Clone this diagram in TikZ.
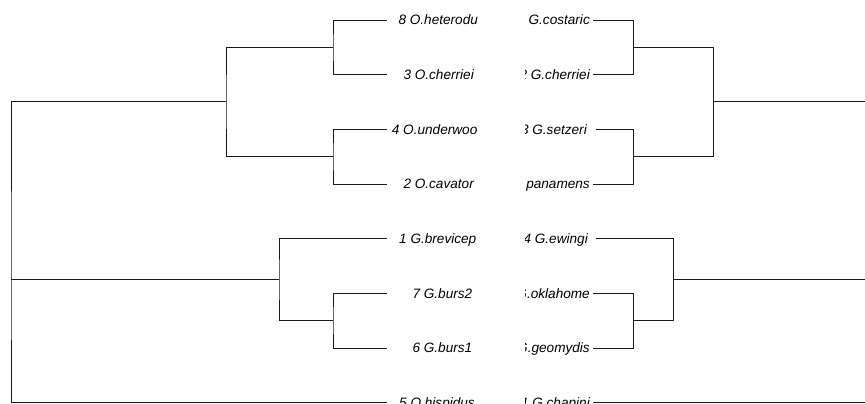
\documentclass[tikz,border=0pt]{standalone}
\usepackage{fontspec}
\setmainfont{Liberation Sans}
\begin{document}
\begin{tikzpicture}[x=1pt,y=-1pt,
  edge/.style={draw=black!90,line width=0.75pt},
  lab/.style={inner sep=0pt,font=\fontsize{13.6}{16}\selectfont\itshape},
  llab/.style={lab,anchor=base west},
  rlab/.style={lab,anchor=base east}]
\useasboundingbox (0,0) rectangle (865,404);
% tip heights
\def\ta{20}\def\tb{74.67}\def\tc{129.33}\def\td{184}
\def\te{238.67}\def\tf{293.33}\def\tg{348}\def\th{402.5}
% ---------- left tree ----------
\coordinate (lt1) at (387,\ta);
\coordinate (lt2) at (387,\tb);
\coordinate (lt3) at (387,\tc);
\coordinate (lt4) at (387,\td);
\coordinate (lt5) at (387,\te);
\coordinate (lt6) at (387,\tf);
\coordinate (lt7) at (387,\tg);
\coordinate (lt8) at (387,\th);
\coordinate (lA) at (333,47.33);
\coordinate (lB) at (333,156.67);
\coordinate (lAB) at (226,101.83);
\coordinate (lC) at (333,320.67);
\coordinate (lD) at (279,279.67);
\coordinate (lR) at (11,279.67);
\draw[edge] (lt1) -| (lA) |- (lt2);
\draw[edge] (lt3) -| (lB) |- (lt4);
\draw[edge] (lA) -| (lAB) |- (lB);
\draw[edge] (lt6) -| (lC) |- (lt7);
\draw[edge] (lt5) -| (lD) |- (lC);
\draw[edge] (lAB) -| (lR) |- (lt8);
\draw[edge] (lD) -- (lR);
% left labels
\node[llab] (n8) at (398.3,\ta+4.8) {8 O.heterodu};
\node[llab] (n3) at (403.3,\tb+4.8) {3 O.cherriei};
\node[llab] (n4) at (391.7,\tc+4.8) {4 O.underwoo};
\node[llab] (n2) at (403.3,\td+4.8) {2 O.cavator};
\node[llab] (n1) at (399,\te+4.8) {1 G.brevicep};
\node[llab] (n7) at (412.3,\tf+4.8) {7 G.burs2};
\node[llab] (n6) at (412.3,\tg+4.8) {6 G.burs1};
\node[llab] (n5) at (399,\th+4.8) {5 O.hispidus};
% ---------- right tree ----------
\coordinate (rt1) at (593,\ta);
\coordinate (rt2) at (593,\tb);
\coordinate (rt3) at (596,\tc);
\coordinate (rt4) at (593,\td);
\coordinate (rt5) at (596,\te);
\coordinate (rt6) at (593,\tf);
\coordinate (rt7) at (593,\tg);
\coordinate (rt8) at (593,\th);
\coordinate (rA) at (633.3,47.33);
\coordinate (rB) at (633.3,156.67);
\coordinate (rAB) at (713.3,101.83);
\coordinate (rC) at (633.3,320.67);
\coordinate (rD) at (673.3,279.67);
\coordinate (rE1) at (865,101.83);
\coordinate (rE2) at (865,279.67);
\coordinate (rE3) at (865,\th);
\draw[edge] (rt1) -| (rA) |- (rt2);
\draw[edge] (rt3) -| (rB) |- (rt4);
\draw[edge] (rA) -| (rAB) |- (rB);
\draw[edge] (rt6) -| (rC) |- (rt7);
\draw[edge] (rt5) -| (rD) |- (rC);
\draw[edge] (rAB) -- (rE1);
\draw[edge] (rD) -- (rE2);
\draw[edge] (rt8) -- (rE3);
% right labels (clipped at the left)
\begin{scope}
\clip (525,0) rectangle (600,404);
\node[rlab] (m1) at (590,\ta+4.8) {G.costaric};
\node[rlab] (m2) at (590,\tb+4.8) {2 G.cherriei};
\node[rlab] (m3) at (587,\tc+4.8) {3 G.setzeri};
\node[rlab] (m4) at (590,\td+4.8) {G.panamens};
\node[rlab] (m5) at (588,\te+4.8) {4 G.ewingi};
\node[rlab] (m6) at (590,\tf+4.8) {G.oklahome};
\node[rlab] (m7) at (590,\tg+4.8) {G.geomydis};
\node[rlab] (m8) at (590,\th+4.8) {1 G.chapini};
\end{scope}
\end{tikzpicture}
\end{document}
